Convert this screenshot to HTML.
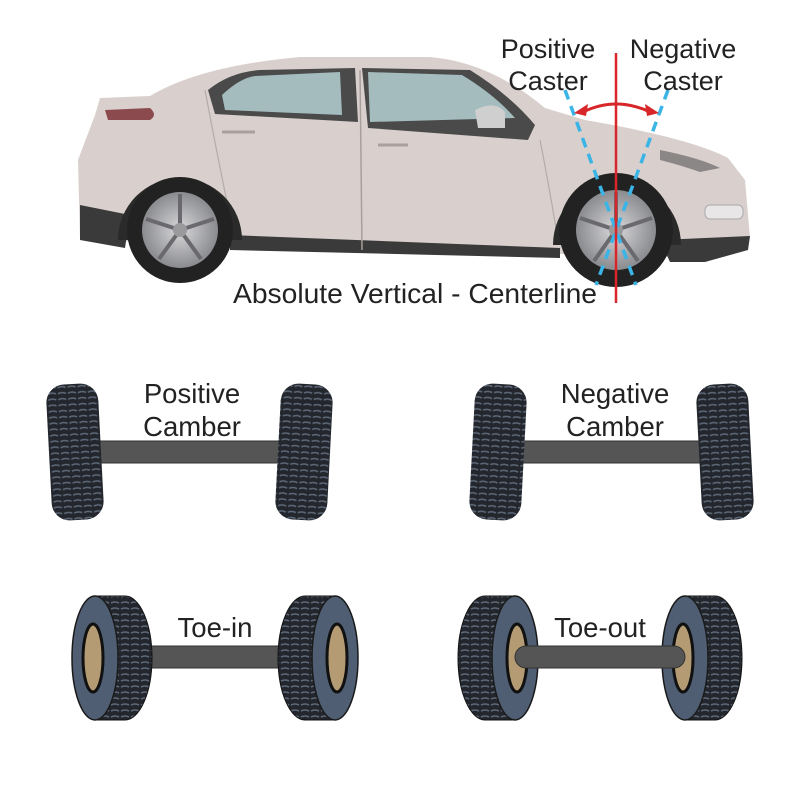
<!DOCTYPE html>
<html><head><meta charset="utf-8"><style>
html,body{margin:0;padding:0;background:#fff;width:800px;height:800px;overflow:hidden}
svg{display:block}
text{font-family:"Liberation Sans",sans-serif;fill:#222}
</style></head><body>
<svg width="800" height="800" viewBox="0 0 800 800" xmlns="http://www.w3.org/2000/svg">
<defs>
<pattern id="tr" width="10" height="6" patternUnits="userSpaceOnUse">
<rect width="10" height="6" fill="#23272d"/>
<path d="M1,3 Q5,1 9,3" stroke="#5d6878" stroke-width="1.6" fill="none"/>
</pattern>
<radialGradient id="rim" cx="50%" cy="50%" r="50%">
<stop offset="0" stop-color="#d8d8da"/><stop offset="1" stop-color="#8a8b8f"/>
</radialGradient>
</defs>

<!-- CAR -->
<path d="M100,98 L150,96 Q200,66 300,57 L430,57 Q490,62 545,108 L585,120 Q690,138 728,158 L745,180 L750,238 L700,258 L80,240 L78,160 L95,115 Z" fill="#d9d0cd"/>
<path d="M80,205 L80,240 L125,248 L130,215 Z" fill="#3a3a3a"/>
<path d="M230,235 L560,248 L560,258 L230,250 Z" fill="#3a3a3a"/>
<path d="M660,240 L750,236 L748,250 L705,262 L670,262 Z" fill="#3a3a3a"/>
<path d="M208,90 Q230,72 260,70 L355,68 L358,122 L215,114 Z" fill="#4a4a4a"/>
<path d="M222,95 Q240,78 255,76 L340,72 L342,115 L225,110 Z" fill="#a4bcbe"/>
<path d="M362,68 L470,70 Q510,95 535,125 L528,140 L368,128 Z" fill="#4a4a4a"/>
<path d="M368,72 L462,75 Q495,95 515,118 L370,122 Z" fill="#a4bcbe"/>
<path d="M475,110 Q495,100 505,112 L505,128 L478,128 Z" fill="#cfcfd0"/>
<path d="M360,70 L362,250" stroke="#a89f9c" stroke-width="1.5"/>
<path d="M205,90 Q220,170 235,240" stroke="#b5acaa" stroke-width="1.2" fill="none"/>
<path d="M105,110 L150,108 Q158,115 150,120 L108,120 Z" fill="#8a4a4e"/>
<path d="M540,140 Q548,180 558,240" stroke="#b5acaa" stroke-width="1.2" fill="none"/>
<path d="M660,150 Q700,158 720,168 L700,172 Q680,165 660,160 Z" fill="#8b8787"/>
<rect x="705" y="205" width="38" height="14" rx="5" fill="#e8e6e6" stroke="#aaa"/>
<path d="M222,132 L255,132" stroke="#a9a09d" stroke-width="3"/>
<path d="M378,145 L408,145" stroke="#a9a09d" stroke-width="3"/>
<path d="M118,240 A62,62 0 0 1 242,240 Z" fill="#2a2a2a"/>
<path d="M553,245 A64,64 0 0 1 681,245 Z" fill="#2a2a2a"/>
<circle cx="180" cy="230" r="53" fill="#222"/>
<circle cx="180" cy="230" r="38" fill="url(#rim)"/>
<g stroke="#6a6a6e" stroke-width="4">
<path d="M180,230 L180,194 M180,230 L214,219 M180,230 L201,259 M180,230 L159,259 M180,230 L146,219"/></g>
<circle cx="180" cy="230" r="7" fill="#9a9a9c"/>
<circle cx="616" cy="230" r="57" fill="#222"/>
<circle cx="616" cy="230" r="40" fill="url(#rim)"/>
<g stroke="#6a6a6e" stroke-width="4">
<path d="M616,230 L616,192 M616,230 L652,218 M616,230 L638,261 M616,230 L594,261 M616,230 L580,218"/></g>
<circle cx="616" cy="230" r="7" fill="#9a9a9c"/>

<path d="M565,90 L636,285" stroke="#3bb4e6" stroke-width="3.5" stroke-dasharray="10,7"/>
<path d="M668,90 L596,285" stroke="#3bb4e6" stroke-width="3.5" stroke-dasharray="10,7"/>
<line x1="616" y1="53" x2="616" y2="303" stroke="#d7272b" stroke-width="2.5"/>
<path d="M583,112 Q616,96 650,112" stroke="#d7272b" stroke-width="3" fill="none"/>
<path d="M574,113 L588,104 L586,116 Z" fill="#d7272b"/>
<path d="M659,113 L645,104 L647,116 Z" fill="#d7272b"/>

<text x="548" y="58" font-size="27" text-anchor="middle">Positive</text>
<text x="548" y="90" font-size="27" text-anchor="middle">Caster</text>
<text x="683" y="58" font-size="27" text-anchor="middle">Negative</text>
<text x="683" y="90" font-size="27" text-anchor="middle">Caster</text>
<text x="415" y="303" font-size="28" text-anchor="middle" textLength="364" lengthAdjust="spacingAndGlyphs">Absolute Vertical - Centerline</text>

<rect x="100" y="441" width="180" height="22" fill="#555" stroke="#333"/>
<rect x="49" y="384" width="52" height="136" rx="18" fill="url(#tr)" transform="rotate(-3 75 452)"/>
<rect x="278" y="384" width="52" height="136" rx="18" fill="url(#tr)" transform="rotate(3 304 452)"/>
<text x="192" y="403" font-size="27.5" text-anchor="middle">Positive</text>
<text x="192" y="436" font-size="27.5" text-anchor="middle">Camber</text>

<rect x="520" y="441" width="180" height="22" fill="#555" stroke="#333"/>
<rect x="472" y="384" width="52" height="136" rx="18" fill="url(#tr)" transform="rotate(3 498 452)"/>
<rect x="699" y="384" width="52" height="136" rx="18" fill="url(#tr)" transform="rotate(-3 725 452)"/>
<text x="615" y="403" font-size="27.5" text-anchor="middle">Negative</text>
<text x="615" y="436" font-size="27.5" text-anchor="middle">Camber</text>

<rect x="145" y="646" width="140" height="22" fill="#555" stroke="#333"/>
<path d="M95,596 L125,596 A27,62 0 0 1 125,720 L95,720 Z" fill="url(#tr)" stroke="#111"/>
<ellipse cx="95" cy="658" rx="23" ry="62" fill="#4f5e72" stroke="#1a1a1a" stroke-width="1.5"/>
<ellipse cx="93" cy="658" rx="10" ry="34" fill="#b49b74" stroke="#111" stroke-width="3"/>
<path d="M335,596 L305,596 A27,62 0 0 0 305,720 L335,720 Z" fill="url(#tr)" stroke="#111"/>
<ellipse cx="335" cy="658" rx="23" ry="62" fill="#4f5e72" stroke="#1a1a1a" stroke-width="1.5"/>
<ellipse cx="337" cy="658" rx="10" ry="34" fill="#b49b74" stroke="#111" stroke-width="3"/>
<text x="215" y="637" font-size="27.5" text-anchor="middle">Toe-in</text>

<path d="M515,596 L485,596 A27,62 0 0 0 485,720 L515,720 Z" fill="url(#tr)" stroke="#111"/>
<ellipse cx="515" cy="658" rx="23" ry="62" fill="#4f5e72" stroke="#1a1a1a" stroke-width="1.5"/>
<ellipse cx="517" cy="658" rx="10" ry="34" fill="#b49b74" stroke="#111" stroke-width="3"/>
<path d="M685,596 L715,596 A27,62 0 0 1 715,720 L685,720 Z" fill="url(#tr)" stroke="#111"/>
<ellipse cx="685" cy="658" rx="23" ry="62" fill="#4f5e72" stroke="#1a1a1a" stroke-width="1.5"/>
<ellipse cx="683" cy="658" rx="10" ry="34" fill="#b49b74" stroke="#111" stroke-width="3"/>
<rect x="515" y="646" width="170" height="22" rx="11" fill="#555" stroke="#333"/>
<text x="600" y="637" font-size="27.5" text-anchor="middle">Toe-out</text>
</svg>
</body></html>
